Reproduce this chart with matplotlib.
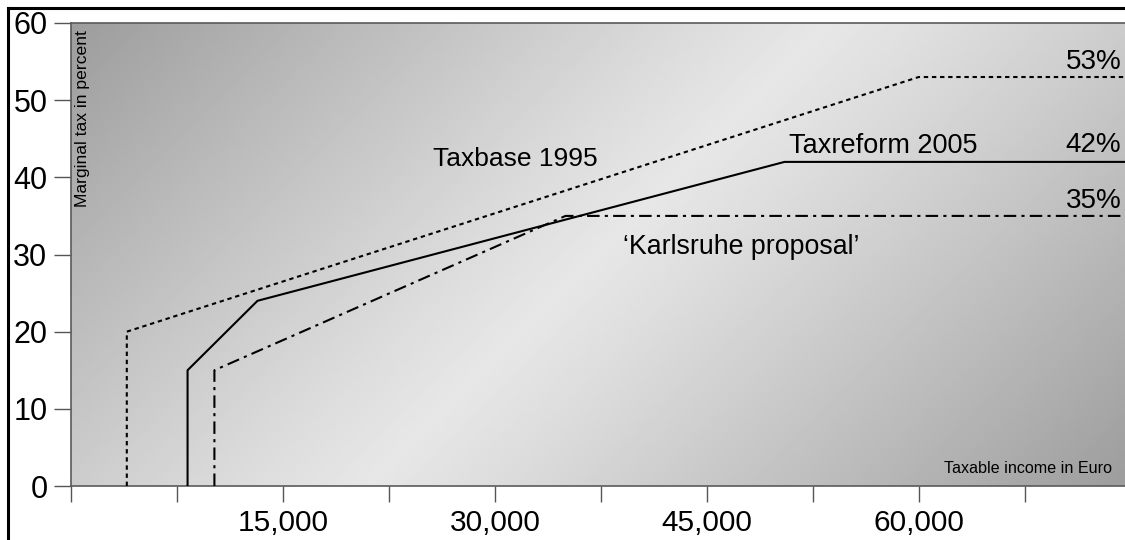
import numpy as np
import matplotlib.pyplot as plt
from matplotlib.lines import Line2D

plt.rcParams['font.family'] = ['Liberation Sans', 'DejaVu Sans']

# marginal tax schedules (income in Euro, rate in percent)
taxbase_1995_x = [3950, 3950, 60000, 74600]
taxbase_1995_y = [0, 20, 53, 53]

taxreform_2005_x = [8250, 8250, 13200, 50500, 74600]
taxreform_2005_y = [0, 15, 24, 42, 42]

karlsruhe_x = [10150, 10150, 35000, 74600]
karlsruhe_y = [0, 15, 35, 35]

x_ticks = [0, 7500, 15000, 22500, 30000, 37500, 45000, 52500, 60000, 67500]
x_tick_labels = ['', '', '15,000', '', '30,000', '', '45,000', '', '60,000', '']
y_ticks = [0, 10, 20, 30, 40, 50, 60]

fig = plt.figure(figsize=(11.25, 5.4), dpi=100)
W, H = 1125, 540
ax = fig.add_axes([71 / W, (H - 486) / H, (W - 71) / W, 463 / H])

# diagonal grey gradient background
pw, ph = 1054, 463
u = np.linspace(0, 1, 400)
v = np.linspace(0, 1, 200)
U, V = np.meshgrid(u, v)
t = (U * pw + V * ph) / (pw + ph)
grey = 0.905 - 0.29 * np.abs(2 * t - 1) ** 1.1
ax.imshow(grey, cmap='gray', vmin=0, vmax=1, extent=[0, 1, 0, 1],
          transform=ax.transAxes, aspect='auto', zorder=0, interpolation='bilinear')

ax.plot(taxbase_1995_x, taxbase_1995_y, color='black', lw=1.5,
        linestyle=(0, (2.1, 1.8)), zorder=3)
ax.plot(taxreform_2005_x, taxreform_2005_y, color='black', lw=1.5, zorder=3)
ax.plot(karlsruhe_x, karlsruhe_y, color='black', lw=1.5,
        linestyle=(0, (6, 2.5, 1.5, 2.5)), zorder=3)

ax.set_xlim(0, 74600)
ax.set_ylim(0, 60)
ax.set_xticks(x_ticks)
ax.set_xticklabels(x_tick_labels)
ax.set_yticks(y_ticks)
ax.tick_params(axis='x', length=11.5, width=1, color='#555555', pad=5, labelsize=21.5)
ax.tick_params(axis='y', length=12, width=1, color='#555555', pad=5, labelsize=22)
for s in ['left', 'bottom', 'top']:
    ax.spines[s].set_color('#5a5a5a')
    ax.spines[s].set_linewidth(1.2)
ax.spines['right'].set_visible(False)

# labels inside the plot
ax.text(25600, 41.45, 'Taxbase 1995', fontsize=19, va='baseline', ha='left', zorder=4)
ax.text(50800, 43.2, 'Taxreform 2005', fontsize=19.5, va='baseline', ha='left', zorder=4)
ax.text(39100, 30.05, '\u2018Karlsruhe proposal\u2019', fontsize=19.3, va='baseline', ha='left', zorder=4)
ax.text(74350, 54.0, '53%', fontsize=20, va='baseline', ha='right', zorder=4)
ax.text(74350, 43.3, '42%', fontsize=20, va='baseline', ha='right', zorder=4)
ax.text(74350, 36.0, '35%', fontsize=20, va='baseline', ha='right', zorder=4)

ax.text((82 - 71) / pw, (486 - 30) / ph, 'Marginal tax in percent', rotation=90,
        fontsize=12.6, ha='center', va='top', transform=ax.transAxes, zorder=4)
ax.text((1112 - 71) / pw, (486 - 473) / ph, 'Taxable income in Euro',
        fontsize=11.6, ha='right', va='baseline', transform=ax.transAxes, zorder=4)

# black frame around the figure (left and top edges visible)
fig.add_artist(Line2D([8 / W, 8 / W], [0, 1 - 8 / H], color='black', lw=2.2,
                      transform=fig.transFigure))
fig.add_artist(Line2D([8 / W, 1], [1 - 8 / H, 1 - 8 / H], color='black', lw=2.2,
                      transform=fig.transFigure))

fig.savefig('out.png', dpi=100)
